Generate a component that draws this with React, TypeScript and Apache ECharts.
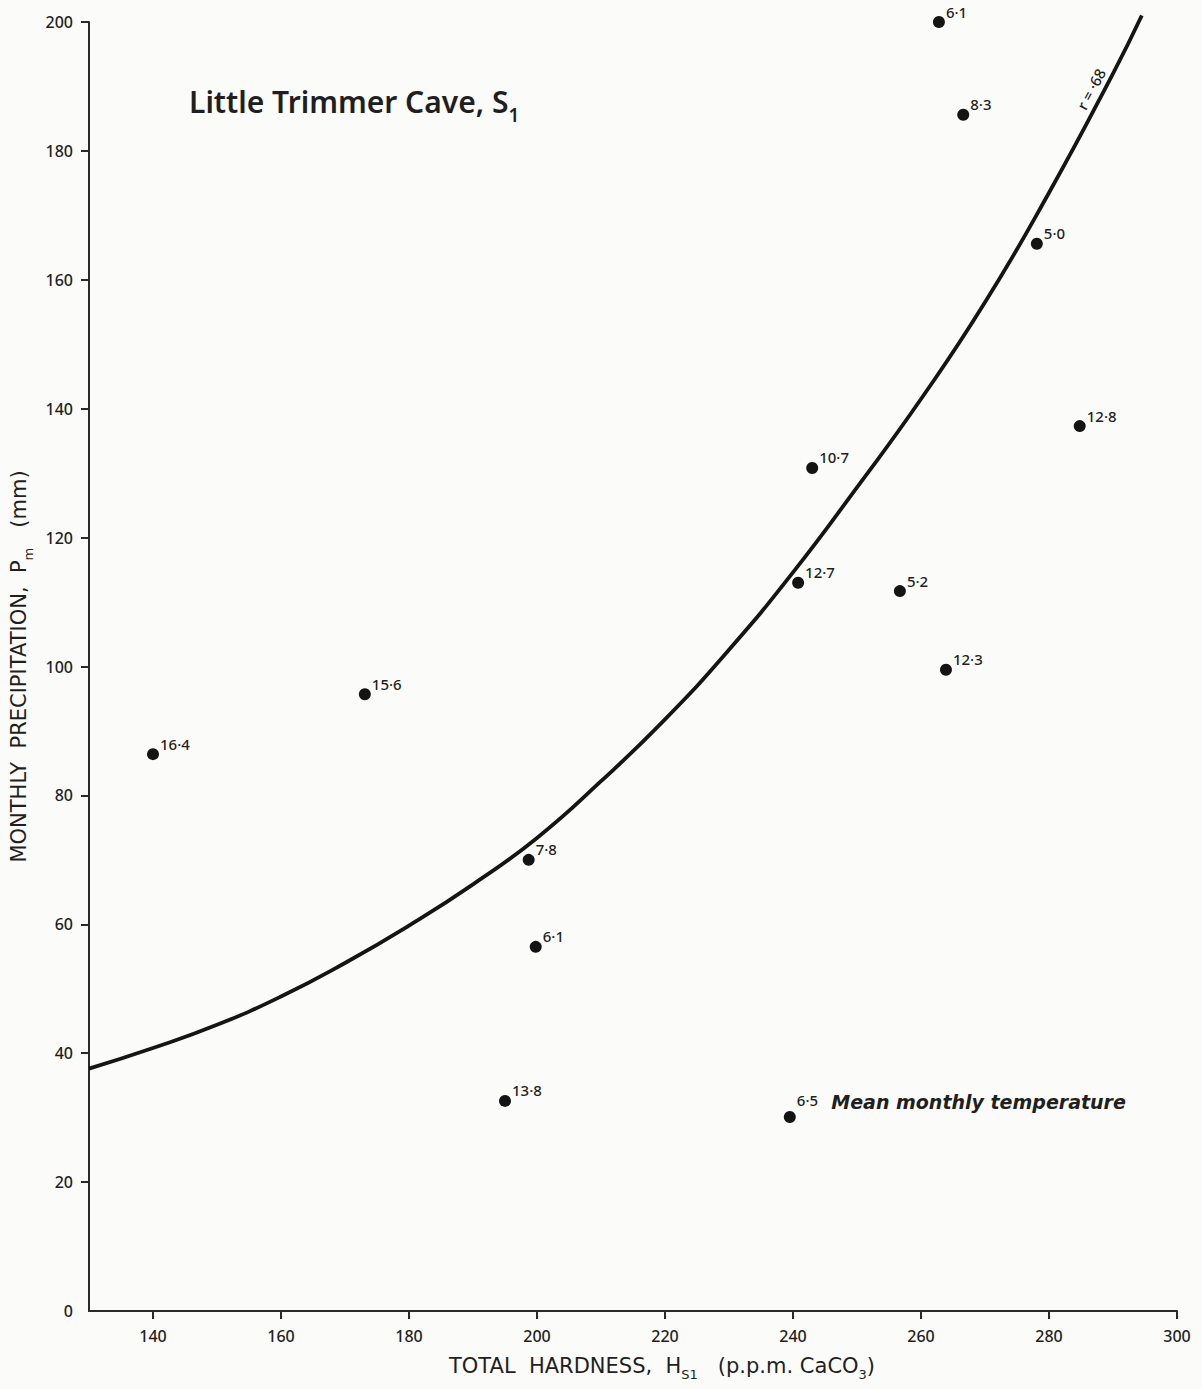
import React, { useEffect, useRef } from "react";
import * as echarts from "echarts";

// Scatter points: total hardness (ppm CaCO3) vs monthly precipitation (mm), label = mean monthly temperature
const hardness = [140, 173.1, 198.7, 199.8, 195, 239.5, 240.8, 243, 256.7, 263.9, 284.8, 278.1, 266.6, 262.8];
const precip = [86.4, 95.7, 70.0, 56.5, 32.6, 30.1, 113.0, 130.8, 111.7, 99.5, 137.3, 165.6, 185.6, 200.0];
const temps = ["16·4", "15·6", "7·8", "6·1", "13·8", "6·5", "12·7", "10·7", "5·2", "12·3", "12·8", "5·0", "8·3", "6·1"];
const noteIndex = 5;
const noteText = "Mean monthly temperature";

// Fitted curve (r = ·68)
const curveX = [130, 140, 150, 160, 170, 180, 190, 200, 210, 220, 230, 240, 250, 260, 270, 280, 290, 294.5];
const curveY = [37.6, 40.8, 44.4, 48.8, 54.0, 59.8, 66.2, 73.4, 82.2, 91.8, 102.6, 114.6, 127.8, 141.5, 156.5, 173.5, 192.0, 201.0];
const curveLabel = "r = ·68";

// Axis ticks
const xTicks = [140, 160, 180, 200, 220, 240, 260, 280, 300];
const yTicks = [20, 40, 60, 80, 100, 120, 140, 160, 180, 200];
const yLabels = [0, 20, 40, 60, 80, 100, 120, 140, 160, 180, 200];

export default function App() {
  const ref = useRef<HTMLDivElement>(null);
  useEffect(() => {
    if (!ref.current) return;
    const chart = echarts.init(ref.current, null, { renderer: "svg" });
    const font = "'Noto Sans', 'DejaVu Sans', sans-serif";
    const wide = "'DejaVu Sans', 'Noto Sans', sans-serif";
    const ink = "#1f1f1f";
    const nameRich = {
      a: { fontSize: 21, fontWeight: 500, color: ink, lineHeight: 26, verticalAlign: "top", fontFamily: wide },
      s: { fontSize: 13, fontWeight: 500, color: ink, lineHeight: 17, verticalAlign: "bottom", fontFamily: wide },
    };
    chart.setOption({
      animation: false,
      backgroundColor: "#fbfbf9",
      textStyle: { fontFamily: font, color: ink },
      title: {
        text: "{m|Little Trimmer Cave, S}{s|1}",
        left: 184,
        top: 81,
        textStyle: {
          rich: {
            m: { fontSize: 30, fontWeight: 600, color: ink, lineHeight: 38, verticalAlign: "top", fontFamily: font },
            s: { fontSize: 19, fontWeight: 600, color: ink, lineHeight: 27, verticalAlign: "bottom", fontFamily: font },
          },
        },
      },
      grid: { left: 89, top: 22, width: 1088, height: 1289 },
      xAxis: {
        type: "value",
        min: 130,
        max: 300,
        splitLine: { show: false },
        axisLine: { lineStyle: { color: "#2a2a2a", width: 2 } },
        axisTick: { customValues: xTicks, length: 8, lineStyle: { color: "#2a2a2a", width: 2 } },
        axisLabel: { customValues: xTicks, fontSize: 16, fontWeight: 500, color: ink, margin: 17, fontFamily: font },
        name: "{a|TOTAL  HARDNESS,  H}{s|S1}{a|   (p.p.m. CaCO}{s|3}{a|)}",
        nameLocation: "middle",
        nameGap: 44,
        nameTextStyle: {
          padding: [0, 0, 0, 58],
          rich: nameRich,
        },
      },
      yAxis: {
        type: "value",
        min: 0,
        max: 200,
        splitLine: { show: false },
        axisLine: { lineStyle: { color: "#2a2a2a", width: 2 } },
        axisTick: { customValues: yTicks, length: 8, lineStyle: { color: "#2a2a2a", width: 2 } },
        axisLabel: { customValues: yLabels, fontSize: 16, fontWeight: 500, color: ink, margin: 16, fontFamily: font },
        name: "{a|MONTHLY  PRECIPITATION,  P}{s|m}{a|   (mm)}",
        nameLocation: "middle",
        nameGap: 54,
        nameTextStyle: {
          rich: nameRich,
        },
      },
      series: [
        {
          type: "line",
          data: curveX.map((x, i) => [x, curveY[i]]),
          smooth: 0.5,
          showSymbol: false,
          clip: false,
          lineStyle: { color: "#151515", width: 3.8 },
          z: 2,
        },
        {
          type: "scatter",
          data: hardness.map((x, i) =>
            i === noteIndex
              ? { value: [x, precip[i]], label: { offset: [0, -12] } }
              : { value: [x, precip[i]] }
          ),
          symbolSize: 12,
          clip: false,
          itemStyle: { color: "#141414", opacity: 1 },
          z: 3,
          label: {
            show: true,
            position: "right",
            distance: 1,
            offset: [0, -8],
            formatter: (p: any) =>
              p.dataIndex === noteIndex
                ? `{t|${temps[p.dataIndex]}}{n|  ${noteText}}`
                : `{t|${temps[p.dataIndex]}}`,
            rich: {
              t: { fontSize: 15, fontWeight: 500, color: ink, fontFamily: font, lineHeight: 20, verticalAlign: "top" },
              n: { fontSize: 19, fontStyle: "italic", fontWeight: "bold", color: ink, fontFamily: wide, lineHeight: 26, verticalAlign: "top" },
            },
          },
        },
      ],
      graphic: [
        {
          type: "text",
          x: 1091,
          y: 89,
          rotation: (62 * Math.PI) / 180,
          style: {
            text: curveLabel,
            fontSize: 15,
            fontWeight: 500,
            fill: ink,
            fontFamily: font,
            align: "center",
            verticalAlign: "middle",
          },
        },
      ],
    });
    return () => chart.dispose();
  }, []);
  return (
    <div
      ref={ref}
      style={{ position: "fixed", left: 0, top: 0, width: 1202, height: 1389 }}
    />
  );
}
